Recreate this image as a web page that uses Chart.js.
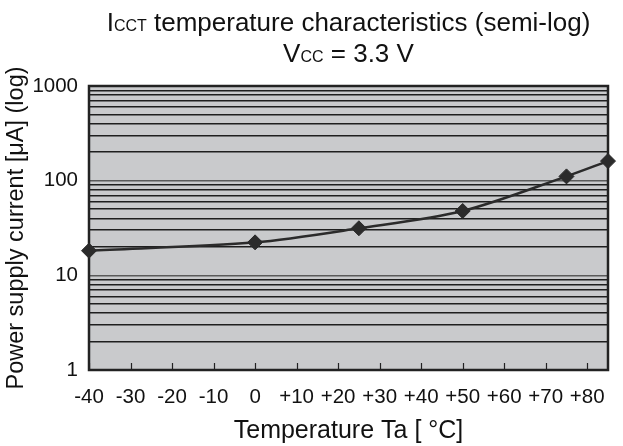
<!DOCTYPE html>
<html>
<head>
<meta charset="utf-8">
<script src="https://cdn.jsdelivr.net/npm/chart.js@4.4.0/dist/chart.umd.min.js"></script>
<style>
  html, body { margin: 0; padding: 0; background: #fff; }
  #wrap { width: 623px; height: 446px; }
</style>
</head>
<body>
<div id="wrap"><canvas id="iccChart" width="623" height="446"></canvas></div>
<script>
/* ICCT vs temperature, semi-log */
const temps = [-40, 0, 25, 50, 75, 85];
const current = [18.2, 22.3, 31.4, 47.8, 111, 161];
const xTicks = [-40, -30, -20, -10, 0, 10, 20, 30, 40, 50, 60, 70, 80];
const yLabels = [1, 10, 100, 1000];

const FONT = "'Liberation Sans', Arial, sans-serif";

// gray plot background, inner x ticks and box
const plotBox = {
  id: 'plotBox',
  beforeDraw(chart) {
    const a = chart.chartArea, ctx = chart.ctx;
    ctx.save();
    ctx.fillStyle = '#c9cacc';
    ctx.fillRect(a.left, a.top, a.right - a.left, a.bottom - a.top);
    ctx.restore();
  },
  beforeDatasetsDraw(chart) {
    const a = chart.chartArea, ctx = chart.ctx;
    const xs = chart.scales.x;
    ctx.save();
    ctx.strokeStyle = '#222';
    ctx.lineWidth = 1.2;
    ctx.beginPath();
    xTicks.forEach(v => {
      const px = Math.round(xs.getPixelForValue(v)) + 0.5;
      ctx.moveTo(px, a.bottom);
      ctx.lineTo(px, a.bottom - 7);
    });
    ctx.stroke();
    ctx.lineWidth = 2.5;
    ctx.strokeRect(a.left, a.top, a.right - a.left, a.bottom - a.top);
    ctx.restore();
  }
};

// two-line title with small-caps subscripts
function drawParts(ctx, parts, cx, y) {
  let w = 0;
  parts.forEach(p => { ctx.font = p[1] + 'px ' + FONT; w += ctx.measureText(p[0]).width; });
  let x = cx - w / 2;
  parts.forEach(p => {
    ctx.font = p[1] + 'px ' + FONT;
    ctx.fillText(p[0], x, y);
    x += ctx.measureText(p[0]).width;
  });
}
const titlePlugin = {
  id: 'titlePlugin',
  afterDraw(chart) {
    const a = chart.chartArea, ctx = chart.ctx;
    const cx = (a.left + a.right) / 2;
    ctx.save();
    ctx.fillStyle = '#111';
    ctx.textBaseline = 'alphabetic';
    drawParts(ctx, [['I', 26], ['CCT', 16], [' temperature characteristics (semi-log)', 26]], cx, 31);
    drawParts(ctx, [['V', 26], ['CC', 16], [' = 3.3 V', 26]], cx, 62);
    ctx.restore();
  }
};

const data = {
  datasets: [{
    data: temps.map((t, i) => ({ x: t, y: current[i] })),
    borderColor: '#2b2b2b',
    backgroundColor: '#2b2b2b',
    borderWidth: 2.5,
    pointStyle: 'rectRot',
    pointRadius: 7.5,
    pointBorderWidth: 1,
    tension: 0.3,
    clip: false
  }]
};

const config = {
  type: 'line',
  data: data,
  plugins: [plotBox, titlePlugin],
  options: {
    responsive: false,
    animation: false,
    layout: { padding: { top: 86, right: 15, left: 0, bottom: 0 } },
    plugins: {
      legend: { display: false },
      tooltip: { enabled: false },
      title: { display: false }
    },
    scales: {
      x: {
        type: 'linear',
        min: -40,
        max: 85,
        afterBuildTicks: s => { s.ticks = xTicks.map(v => ({ value: v })); },
        afterFit: s => { s.height = 76; },
        grid: { drawOnChartArea: false, drawTicks: false },
        border: { display: false },
        ticks: {
          autoSkip: false,
          maxRotation: 0,
          padding: 15,
          color: '#111',
          font: { family: FONT, size: 20.5 },
          callback: v => (v > 0 ? '+' + v : '' + v)
        },
        title: {
          display: true,
          text: 'Temperature Ta [ °C]',
          color: '#111',
          font: { family: FONT, size: 25 },
          padding: { top: 0, bottom: 0 }
        }
      },
      y: {
        type: 'logarithmic',
        min: 1,
        max: 1000,
        afterBuildTicks: s => {
          const t = [];
          for (let e = 1; e <= 100; e *= 10) {
            for (let k = 1; k < 10; k++) t.push({ value: k * e });
          }
          t.push({ value: 1000 });
          s.ticks = t;
        },
        afterFit: s => { s.width = 89; },
        grid: {
          drawTicks: false,
          color: c => (yLabels.includes(c.tick.value) ? '#5a5a5a' : '#1e1e1e'),
          lineWidth: 1.6
        },
        border: { display: false },
        ticks: {
          autoSkip: false,
          padding: 11,
          color: '#111',
          font: { family: FONT, size: 20.5 },
          callback: v => (yLabels.includes(v) ? String(v) : '')
        },
        title: {
          display: true,
          text: 'Power supply current [μA] (log)',
          color: '#111',
          font: { family: FONT, size: 23.5 },
          padding: { top: 2, bottom: 0 }
        }
      }
    }
  }
};

var myChart = new Chart(
  document.getElementById('iccChart'),
  config
);
</script>
</body>
</html>
